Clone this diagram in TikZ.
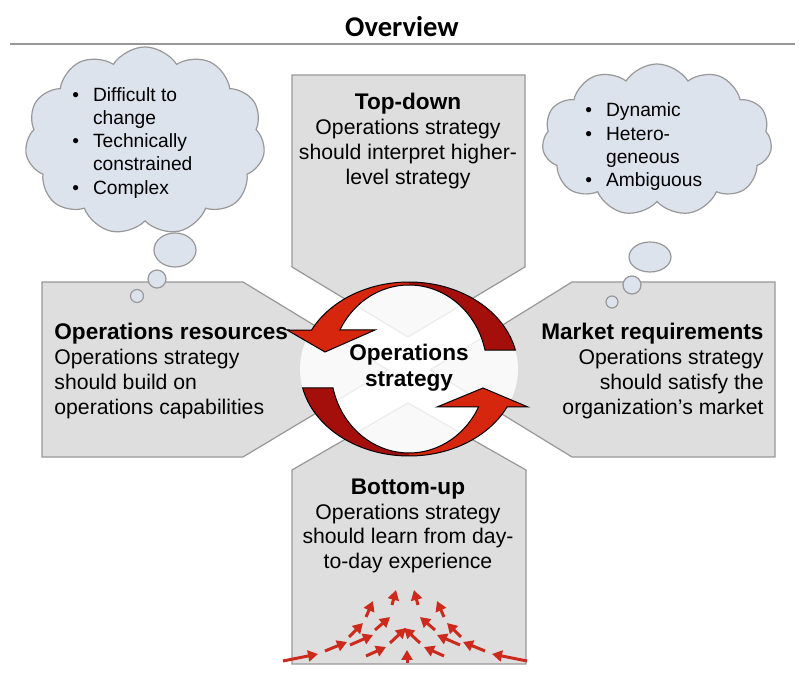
\documentclass[tikz,border=0pt]{standalone}
\usepackage{fontspec}
\setmainfont{Liberation Sans}
\newfontfamily\titlefont{Carlito}
\usetikzlibrary{shapes.symbols, arrows.meta}
\definecolor{boxgray}{HTML}{DEDEDE}
\definecolor{edgegray}{HTML}{989898}
\definecolor{cloudblue}{HTML}{DDE3EC}
\definecolor{ribbondark}{HTML}{A40F0B}
\definecolor{ribbonlight}{HTML}{D6260E}
\definecolor{dashred}{HTML}{CC2A1C}
\newcommand\boxfont{\fontsize{10.6}{12.4}\selectfont}
\newcommand\boxhead{\fontsize{11.3}{12.4}\selectfont\bfseries}
\newcommand\listfont{\fontsize{9.6}{11.6}\selectfont}
\tikzset{
x=0.5pt, y=-0.5pt, % one unit is one pixel of the sketch, y runs down
>={Triangle[length=5pt,width=5.5pt]},
side box/.style={draw=edgegray, fill=boxgray, line width=0.6pt},
thought cloud/.style={cloud, cloud puffs=11, cloud puff arc=115, aspect=1.4, draw=edgegray, fill=cloudblue, line width=0.6pt, inner sep=0pt},
bubble/.style={draw=edgegray, fill=cloudblue, line width=0.6pt},
box text/.style={font=\boxfont, inner sep=0pt},
list text/.style={font=\listfont, inner sep=0pt, anchor=west},
ribbon edge/.style={draw=black, line width=0.5pt},
dash arrow/.style={->, dashred, line width=1.5pt},
}

\begin{document}
\begin{tikzpicture}
\useasboundingbox (0,0) rectangle (800,673);
\fill[white] (0,0) rectangle (800,673);

% title
\node[font=\fontsize{14.3}{16}\selectfont\titlefont\bfseries, inner sep=0pt] (title) at (402,27) {Overview};
\draw[edgegray, line width=1pt] (10,44) -- (795,44);

% the four boxes pointing to the middle
\draw[side box] (292,75) -- (525,75) -- (525,267) -- (408,337) -- (292,267) -- cycle;
\draw[side box] (42,282) -- (243,282) -- (388,370) -- (243,457) -- (42,457) -- cycle;
\draw[side box] (775,282) -- (572,282) -- (430,370) -- (572,457) -- (775,457) -- cycle;
\draw[side box] (292,664) -- (292,470) -- (408,403) -- (526,470) -- (526,664) -- cycle;

% thought clouds
\node[thought cloud, minimum width=120pt, minimum height=94pt] (leftcloud) at (145,141) {};
\draw[bubble] (175,250) ellipse [x radius=21, y radius=17];
\draw[bubble] (157,279) circle [radius=9];
\draw[bubble] (137,296) circle [radius=6.5];
\node[thought cloud, minimum width=115pt, minimum height=76pt] (rightcloud) at (657,140) {};
\draw[bubble] (650,257) ellipse [x radius=21, y radius=15];
\draw[bubble] (632,285) circle [radius=9];
\draw[bubble] (612,302) circle [radius=6];

% middle disc and the two turning arrows
\fill[white, opacity=0.82] (409,369) ellipse [x radius=109, y radius=87];
\fill[ribbondark] plot[domain=12.6:90, samples=30] ({409+109*cos(\x)},{369-87*sin(\x)})
  -- plot[domain=90:13.07, samples=30] ({409+78*cos(\x)},{369-84*sin(\x)}) -- cycle;
\fill[ribbonlight] plot[domain=90:153.4, samples=30] ({409+109*cos(\x)},{369-87*sin(\x)})
  -- (287,330) -- (325,352) -- (375,330)
  -- plot[domain=152.3:90, samples=30] ({409+78*cos(\x)},{369-84*sin(\x)}) -- cycle;
\draw[ribbon edge] plot[domain=12.6:153.4, samples=60] ({409+109*cos(\x)},{369-87*sin(\x)})
  -- (287,330) -- (325,352) -- (375,330)
  -- plot[domain=152.3:13.07, samples=60] ({409+78*cos(\x)},{369-84*sin(\x)}) -- cycle;
\fill[ribbondark] plot[domain=192.6:270, samples=30] ({409+109*cos(\x)},{369-87*sin(\x)})
  -- plot[domain=270:193.07, samples=30] ({409+78*cos(\x)},{369-84*sin(\x)}) -- cycle;
\fill[ribbonlight] plot[domain=270:334.1, samples=30] ({409+109*cos(\x)},{369-87*sin(\x)})
  -- (528,407) -- (483,388) -- (437,407)
  -- plot[domain=333.1:270, samples=30] ({409+78*cos(\x)},{369-84*sin(\x)}) -- cycle;
\draw[ribbon edge] plot[domain=192.6:334.1, samples=60] ({409+109*cos(\x)},{369-87*sin(\x)})
  -- (528,407) -- (483,388) -- (437,407)
  -- plot[domain=333.1:193.07, samples=60] ({409+78*cos(\x)},{369-84*sin(\x)}) -- cycle;

% texts
\node[box text, font=\fontsize{11.3}{13}\selectfont\bfseries, align=center] (core) at (409,368) {Operations\\strategy};
\node[box text, align=center] (topdown) at (408,141) {{\boxhead Top-down}\\Operations strategy\\should interpret higher-\\level strategy};
\node[box text, align=left, anchor=west] (resources) at (54,371) {{\boxhead Operations resources}\\Operations strategy\\should build on\\operations capabilities};
\node[box text, align=right, anchor=east] (market) at (764,371) {{\boxhead Market requirements}\\Operations strategy\\should satisfy the\\organization’s market};
\node[box text, align=center] (bottomup) at (408,526) {{\boxhead Bottom-up}\\Operations strategy\\should learn from day-\\to-day experience};
\node[list text] (leftlist) at (72,143) {\begin{tabular}{@{}l@{\hspace{7pt}}l@{}}\textbullet & Difficult to\\ & change\\ \textbullet & Technically\\ & constrained\\ \textbullet & Complex\end{tabular}};
\node[list text] (rightlist) at (585,147) {\begin{tabular}{@{}l@{\hspace{7pt}}l@{}}\textbullet & Dynamic\\ \textbullet & Hetero-\\ & geneous\\ \textbullet & Ambiguous\end{tabular}};

% dashed arrows rising from the bottom
\foreach \ax/\ay/\bx/\by in {283/661/318/654, 325/651/347/642, 349/637/363/623, 366/617/373/601,
  350/645/373/635, 375/630/390/617, 392/605/396/590, 366/656/386/647, 390/643/406/628}
{
  \draw[dash arrow] (\ax,\ay) -- (\bx,\by);
  \draw[dash arrow] (810-\ax,\ay) -- (810-\bx,\by);
}
\draw[dash arrow] (407,663) -- (407,650);
\end{tikzpicture}
\end{document}
